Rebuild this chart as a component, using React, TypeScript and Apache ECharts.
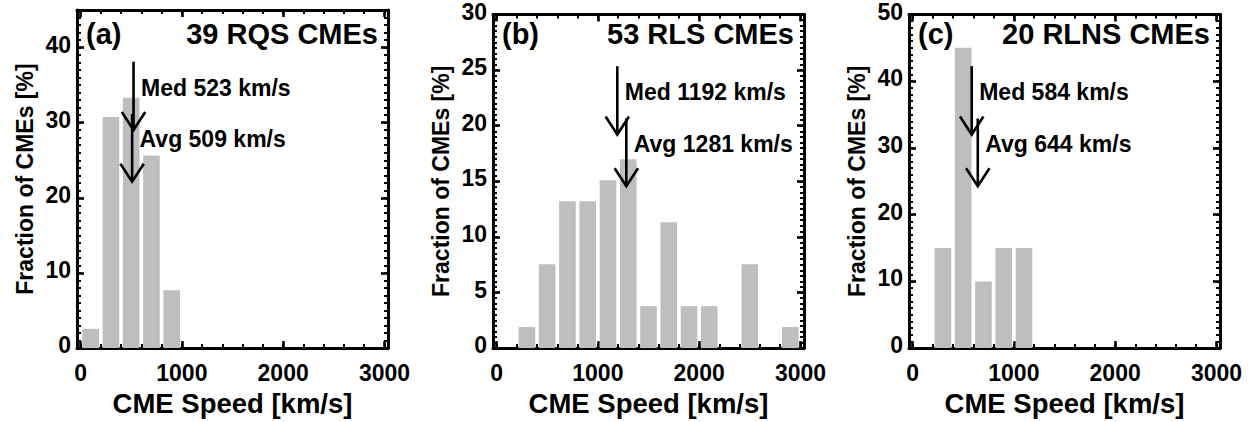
import React, { useEffect, useRef } from "react";
import * as echarts from "echarts";

// ---- data ----
const binCentersA = [100, 300, 500, 700, 900];
const fractionA = [2.56, 30.77, 33.33, 25.64, 7.69];

const binCentersB = [300, 500, 700, 900, 1100, 1300, 1500, 1700, 1900, 2100, 2500, 2900];
const fractionB = [1.89, 7.55, 13.21, 13.21, 15.09, 16.98, 3.77, 11.32, 3.77, 3.77, 7.55, 1.89];

const binCentersC = [300, 500, 700, 900, 1100];
const fractionC = [15, 45, 10, 15, 15];

const panelLetters = ["(a)", "(b)", "(c)"];
const panelTitles = ["39 RQS CMEs", "53 RLS CMEs", "20 RLNS CMEs"];
const medianSpeeds = [523, 1192, 584];
const averageSpeeds = [509, 1281, 644];

const yMaxes = [45, 30, 50];
const yMajorTicks = [
  [0, 10, 20, 30, 40],
  [0, 5, 10, 15, 20, 25, 30],
  [0, 10, 20, 30, 40, 50],
];
const yMinorSteps = [1, 0.5, 1];
const xMajorTicks = [0, 1000, 2000, 3000];
const xMinorStep = 200;

const xTitle = "CME Speed [km/s]";
const yTitle = "Fraction of CMEs [%]";

// ---- layout / style ----
const FONT = '"Liberation Sans", Arial, Helvetica, sans-serif';
const GRID_LEFTS = [77, 493, 909];
const GRID_TOP = 10;
const GRID_W = 311;
const GRID_H = 341;
const X_MIN = -35;
const X_MAX = 3035;
const BAR_COLOR = "#bebebe";

function tickRange(a: number, b: number, step: number): number[] {
  const out: number[] = [];
  for (let v = a; v <= b + 1e-9; v += step) out.push(Math.round(v * 1000) / 1000);
  return out;
}

function buildOption() {
  const panels = [
    { centers: binCentersA, values: fractionA },
    { centers: binCentersB, values: fractionB },
    { centers: binCentersC, values: fractionC },
  ];
  const grids: any[] = [];
  const xAxes: any[] = [];
  const yAxes: any[] = [];
  const series: any[] = [];
  const graphics: any[] = [];

  const frameLine = { show: true, onZero: false, lineStyle: { color: "#000", width: 3 } };
  const noLine = { show: false, onZero: false };
  const labelStyle = { color: "#000", fontWeight: "bold", fontFamily: FONT };
  const plain = (v: number) => String(v);

  panels.forEach((p, i) => {
    grids.push({ left: GRID_LEFTS[i], top: GRID_TOP, width: GRID_W, height: GRID_H });
    const xMinor = tickRange(0, 3000, xMinorStep);
    const yMinor = tickRange(0, yMaxes[i], yMinorSteps[i]);
    const xBase = { type: "value", gridIndex: i, min: X_MIN, max: X_MAX, splitLine: { show: false }, minorTick: { show: false } };
    const yBase = { type: "value", gridIndex: i, min: 0, max: yMaxes[i], splitLine: { show: false }, minorTick: { show: false } };
    const majorTick = (vals: number[]) => ({ show: true, inside: true, length: 7, customValues: vals, lineStyle: { color: "#000", width: 2.6 } });
    const minorTick = (vals: number[]) => ({ show: true, inside: true, length: 4, customValues: vals, lineStyle: { color: "#000", width: 2 } });

    // x axes: bottom major, bottom minor, top major, top minor
    xAxes.push({
      ...xBase, position: "bottom", axisLine: frameLine, axisTick: majorTick(xMajorTicks),
      axisLabel: { show: true, customValues: xMajorTicks, formatter: plain, margin: 13, fontSize: 23, ...labelStyle },
      name: xTitle, nameLocation: "middle", nameGap: 37,
      nameTextStyle: { fontSize: 27.5, ...labelStyle },
    });
    xAxes.push({ ...xBase, position: "bottom", axisLine: noLine, axisTick: minorTick(xMinor), axisLabel: { show: false } });
    xAxes.push({ ...xBase, position: "top", axisLine: frameLine, axisTick: majorTick(xMajorTicks), axisLabel: { show: false } });
    xAxes.push({ ...xBase, position: "top", axisLine: noLine, axisTick: minorTick(xMinor), axisLabel: { show: false } });

    // y axes: left major, left minor, right major, right minor
    yAxes.push({
      ...yBase, position: "left", axisLine: frameLine, axisTick: majorTick(yMajorTicks[i]),
      axisLabel: {
        show: true, customValues: yMajorTicks[i], formatter: plain, margin: 6, fontSize: 23,
        verticalAlign: "bottom", lineHeight: 6, ...labelStyle,
      },
      name: yTitle, nameLocation: "middle", nameGap: 41, nameRotate: 90,
      nameTextStyle: { fontSize: 23, ...labelStyle },
    });
    yAxes.push({ ...yBase, position: "left", axisLine: noLine, axisTick: minorTick(yMinor), axisLabel: { show: false } });
    yAxes.push({ ...yBase, position: "right", axisLine: frameLine, axisTick: majorTick(yMajorTicks[i]), axisLabel: { show: false } });
    yAxes.push({ ...yBase, position: "right", axisLine: noLine, axisTick: minorTick(yMinor), axisLabel: { show: false } });

    series.push({
      type: "bar",
      xAxisIndex: 4 * i,
      yAxisIndex: 4 * i,
      data: p.centers.map((c, k) => [c, p.values[k]]),
      barWidth: "82%",
      itemStyle: { color: BAR_COLOR },
      z: 1,
    });

    series.push({
      type: "custom",
      xAxisIndex: 4 * i,
      yAxisIndex: 4 * i,
      data: [
        [medianSpeeds[i], 0, 0],
        [averageSpeeds[i], 0, 1],
      ],
      encode: { x: 0, y: 1 },
      z: 5,
      clip: false,
      renderItem: (params: any, api: any) => {
        const v = api.value(0);
        const kind = api.value(2);
        const x = api.coord([v, 0])[0];
        const cs = params.coordSys;
        const top = cs.y + (kind === 0 ? 51.7 : 104);
        const tip = cs.y + (kind === 0 ? 120 : 171.7);
        const textY = cs.y + (kind === 0 ? 77.5 : 129.2);
        const label = (kind === 0 ? "Med " : "Avg ") + v + " km/s";
        const lineStyle = { stroke: "#000", lineWidth: 2.6, fill: null };
        return {
          type: "group",
          children: [
            { type: "line", shape: { x1: x, y1: top, x2: x, y2: tip }, style: lineStyle },
            {
              type: "polyline",
              shape: { points: [[x - 11.7, tip - 18], [x, tip], [x + 11.7, tip - 18]] },
              style: lineStyle,
            },
            {
              type: "text",
              style: {
                text: label, x: x + 7.5, y: textY, fill: "#000",
                font: `bold 23px ${FONT}`, align: "left", verticalAlign: "middle",
              },
            },
          ],
        };
      },
    });

    graphics.push({
      type: "text",
      x: GRID_LEFTS[i] + 9,
      y: 34,
      style: { text: panelLetters[i], fill: "#000", font: `bold 29px ${FONT}`, align: "left", verticalAlign: "middle" },
    });
    graphics.push({
      type: "text",
      x: GRID_LEFTS[i] + GRID_W - 10,
      y: 34,
      style: { text: panelTitles[i], fill: "#000", font: `bold 29px ${FONT}`, align: "right", verticalAlign: "middle" },
    });
  });

  return {
    animation: false,
    backgroundColor: "#ffffff",
    grid: grids,
    xAxis: xAxes,
    yAxis: yAxes,
    series,
    graphic: graphics,
  };
}

export default function App() {
  const ref = useRef<HTMLDivElement>(null);
  useEffect(() => {
    if (!ref.current) return;
    const chart = echarts.init(ref.current, null, { renderer: "svg" });
    chart.setOption(buildOption() as any);
    return () => chart.dispose();
  }, []);
  return (
    <div
      ref={ref}
      style={{ position: "fixed", left: 0, top: 0, width: 1254, height: 422, background: "#fff" }}
    />
  );
}
